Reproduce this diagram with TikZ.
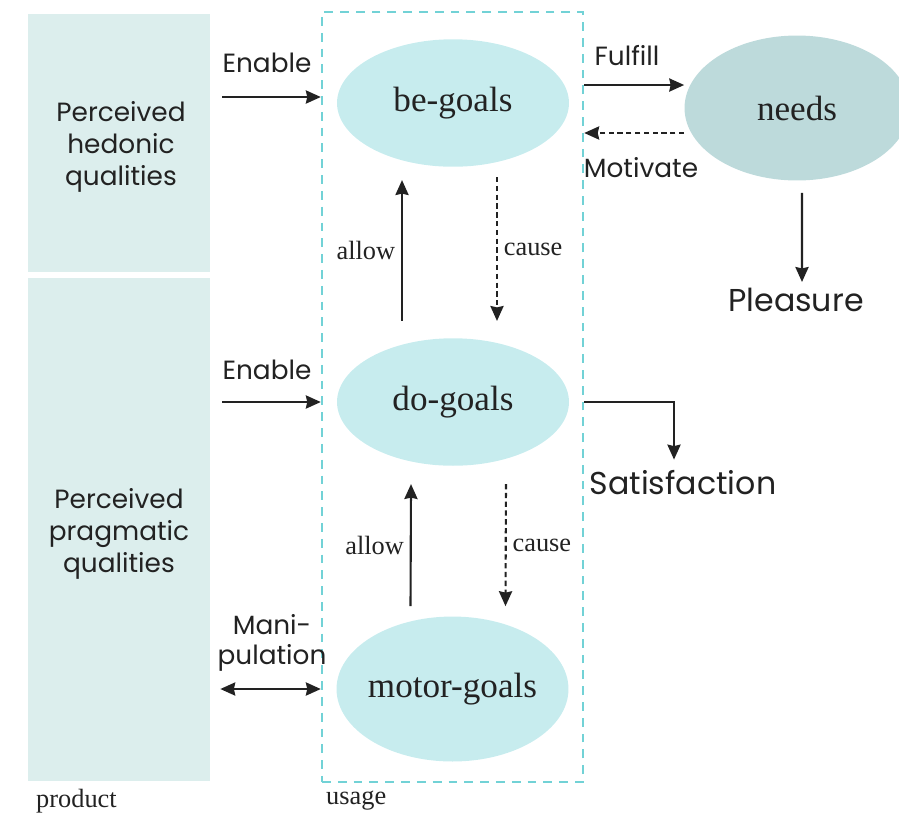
\documentclass[tikz,border=0pt]{standalone}
\usepackage{fontspec}
\setmainfont{Liberation Serif}
\setsansfont{Poppins}
\usetikzlibrary{arrows.meta,shapes.geometric,positioning}

\definecolor{qualfill}{HTML}{DCEEED}
\definecolor{goalfill}{HTML}{C7ECEE}
\definecolor{needfill}{HTML}{BDDADB}
\definecolor{usageline}{HTML}{72D2D6}
\definecolor{ink}{HTML}{222222}

\begin{document}
\begin{tikzpicture}[x=0.02cm, y=-0.02cm, >={Stealth[length=8.5pt,width=7.5pt,inset=0.8pt]},
  qual/.style={fill=qualfill, minimum width=3.64cm, align=center, inner sep=0pt,
    font=\sffamily\fontsize{15}{18}\selectfont, text=ink},
  goal/.style={ellipse, fill=goalfill, minimum width=4.64cm, minimum height=2.55cm,
    inner sep=0pt, font=\fontsize{20}{23}\selectfont, text=ink},
  lbl/.style={font=\sffamily\fontsize{15}{17}\selectfont, text=ink, align=center},
  biglbl/.style={font=\sffamily\fontsize{18}{21}\selectfont, text=ink},
  small/.style={font=\fontsize{15}{17}\selectfont, text=ink},
  link/.style={->, line width=1.2pt, ink},
  hint/.style={->, line width=1.2pt, ink, dash pattern=on 3pt off 2pt}]

  \useasboundingbox (0,0) rectangle (899,816);
  \clip (0,0) rectangle (899,816);

  % Product side
  \node[qual, minimum height=5.16cm] (hedonic) at (119,143) {};
  \node[lbl, font=\sffamily\fontsize{15}{18}\selectfont] at (121,147) {Perceived\\hedonic\\qualities};
  \node[qual, minimum height=10.06cm] (pragmatic) at (119,529.5) {};
  \node[lbl, font=\sffamily\fontsize{15}{18}\selectfont] at (119,534) {Perceived\\pragmatic\\qualities};
  \node[small, anchor=west] (product) at (30,801) {product};

  % Usage box and goals
  \node[draw=usageline, line width=1.4pt, dash pattern=on 5pt off 4pt,
    minimum width=5.22cm, minimum height=15.4cm] (usage) at (452.5,397) {};
  \node[small, anchor=west] (usagelbl) at (320,801) {usage};
  \node[goal] (be) at (453,103) {be-goals};
  \node[goal] (do) at (453,402) {do-goals};
  \node[goal, minimum height=2.9cm, inner xsep=-4pt] (motor) at (452.5,689) {motor-goals};

  % Needs side
  \node[goal, fill=needfill, minimum width=4.5cm, minimum height=2.9cm] (needs) at (797,108) {needs};
  \node[biglbl] (pleasure) at (796,300) {Pleasure};
  \node[biglbl] (satisf) at (683,483) {Satisfaction};

  % Product -> usage
  \draw[link] ([xshift=0.24cm,yshift=0.12cm]hedonic.east |- be.west) -- ([yshift=0.12cm]usage.west |- be.west);
  \node[lbl] (enable1) at (267,63) {Enable};
  \draw[link] ([xshift=0.24cm]pragmatic.east |- do.west) -- (usage.west |- do.west);
  \node[lbl] (enable2) at (267,370) {Enable};
  \draw[link, <->] ([xshift=0.2cm]pragmatic.east |- motor.west) -- (usage.west |- motor.west);
  \node[lbl] (manip) at (272,643) {Mani-\\pulation};

  % Between goal levels
  \draw[link] ([xshift=-1.02cm,yshift=0.34cm]do.north) -- ([xshift=-1.02cm,yshift=-0.26cm]be.south)
    node[midway, left, small] {allow};
  \draw[hint] ([xshift=0.88cm,yshift=-0.2cm]be.south) -- ([xshift=0.88cm,yshift=0.34cm]do.north)
    node[midway, right, small] {cause};
  \draw[link] ([xshift=-0.84cm,yshift=0.2cm]motor.north) -- ([xshift=-0.84cm,yshift=-0.36cm]do.south)
    node[midway, left, small] {allow};
  \draw[hint] ([xshift=1.06cm,yshift=-0.36cm]do.south) -- ([xshift=1.06cm,yshift=0.2cm]motor.north)
    node[midway, right, small] {cause};

  % Usage <-> needs
  \draw[link] ([yshift=0.46cm]usage.east |- needs.west) -- ([yshift=0.46cm]needs.west);
  \node[lbl] (fulfill) at (627,56) {Fulfill};
  \draw[hint] ([yshift=-0.5cm]needs.west) -- ([yshift=-0.5cm]usage.east |- needs.west);
  \node[lbl] (motivate) at (641,168) {Motivate};
  \draw[link] ([xshift=0.1cm,yshift=-0.24cm]needs.south) -- ([xshift=0.12cm]pleasure.north);
  \draw[link] (usage.east |- do.east) -| ([xshift=-0.18cm,yshift=0.1cm]satisf.north);
\end{tikzpicture}
\end{document}
